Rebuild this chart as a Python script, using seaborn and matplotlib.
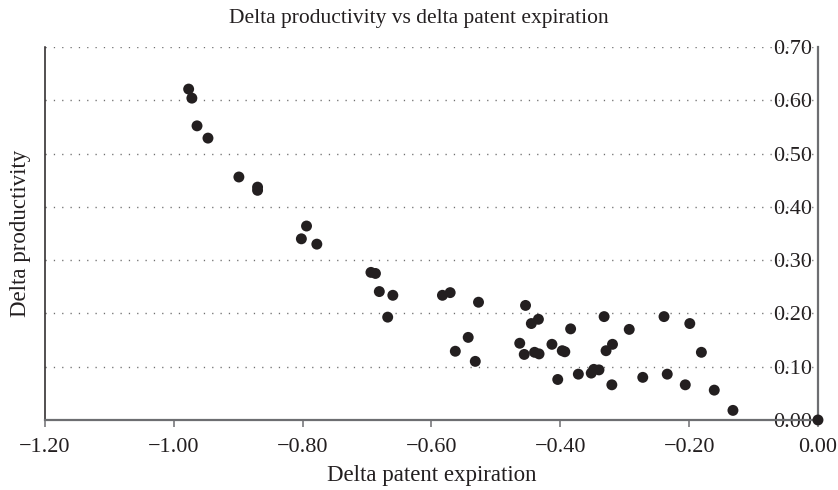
import matplotlib
matplotlib.use("Agg")
import matplotlib.pyplot as plt
import seaborn as sns
import pandas as pd

# Change in patent expiration (x) and change in productivity (y), one point per observation
delta_patent = [
    -0.977, -0.972, -0.964, -0.947, -0.899, -0.870, -0.870,
    -0.794, -0.802, -0.778,
    -0.694, -0.687, -0.681, -0.660, -0.668,
    -0.583, -0.571, -0.527, -0.543, -0.563, -0.532,
    -0.463, -0.454, -0.445, -0.434, -0.456, -0.440, -0.433,
    -0.413, -0.397, -0.393, -0.404, -0.384, -0.372, -0.352, -0.348, -0.340,
    -0.332, -0.329, -0.319, -0.320, -0.293,
    -0.272, -0.239, -0.234, -0.199, -0.206, -0.181, -0.161, -0.132, 0.000,
]
delta_productivity = [
    0.621, 0.604, 0.552, 0.529, 0.456, 0.437, 0.431,
    0.364, 0.340, 0.330,
    0.277, 0.275, 0.241, 0.234, 0.193,
    0.234, 0.239, 0.221, 0.155, 0.129, 0.110,
    0.144, 0.215, 0.181, 0.189, 0.123, 0.127, 0.124,
    0.142, 0.130, 0.128, 0.076, 0.171, 0.086, 0.088, 0.095, 0.094,
    0.194, 0.130, 0.142, 0.066, 0.170,
    0.080, 0.194, 0.086, 0.181, 0.066, 0.127, 0.056, 0.018, 0.000,
]

x_ticks = [-1.2, -1.0, -0.8, -0.6, -0.4, -0.2, 0.0]
x_tick_labels = ["\u22121.20", "\u22121.00", "\u22120.80", "\u22120.60",
                 "\u22120.40", "\u22120.20", "0.00"]
y_ticks = [0.0, 0.1, 0.2, 0.3, 0.4, 0.5, 0.6, 0.7]
y_tick_labels = ["0.00", "0.10", "0.20", "0.30", "0.40", "0.50", "0.60", "0.70"]

title = "Delta productivity vs delta patent expiration"
x_title = "Delta patent expiration"
y_title = "Delta productivity"

ink = "#231f20"
rule = "#6d6e71"

sns.set_theme(style="white")
plt.rcParams["font.family"] = ["Liberation Serif", "DejaVu Serif"]
plt.rcParams["text.color"] = ink
plt.rcParams["axes.labelcolor"] = ink
plt.rcParams["xtick.color"] = rule
plt.rcParams["xtick.labelcolor"] = ink
plt.rcParams["ytick.labelcolor"] = ink

df = pd.DataFrame({"patent": delta_patent, "productivity": delta_productivity})

fig = plt.figure(figsize=(8.38, 4.90), dpi=100)
ax = fig.add_axes([0.0537, 0.1429, 0.9224, 0.7612])

sns.scatterplot(data=df, x="patent", y="productivity", ax=ax, color=ink,
                s=62, edgecolor="none", linewidth=0, clip_on=False, zorder=5)

ax.set_xlim(-1.2, 0.0)
ax.set_ylim(0.0, 0.7)

# dotted horizontal guides
for v in y_ticks[1:]:
    ax.axhline(v, color="#6f6f6f", linewidth=1.0, linestyle=(0, (0.9, 5.1)), zorder=1)

ax.spines["top"].set_visible(False)
ax.spines["left"].set_color(ink)
ax.spines["left"].set_linewidth(1.1)
ax.spines["bottom"].set_color(rule)
ax.spines["bottom"].set_linewidth(1.6)
ax.spines["right"].set_color(rule)
ax.spines["right"].set_linewidth(1.6)

ax.set_xticks(x_ticks, x_tick_labels)
ax.tick_params(axis="x", direction="out", length=5, width=1.1, pad=8,
               labelsize=16, bottom=True)

ax.yaxis.set_ticks_position("right")
ax.set_yticks(y_ticks, y_tick_labels)
ax.tick_params(axis="y", length=0, pad=-4.5, labelsize=16,
               left=False, right=False, labelleft=False, labelright=True)
for lbl in ax.get_yticklabels():
    lbl.set_horizontalalignment("right")
    lbl.set_bbox(dict(facecolor="white", edgecolor="none", pad=0.5))
    lbl.set_zorder(4)

ax.set_xlabel(x_title, fontsize=16.5, labelpad=6)
ax.set_ylabel(y_title, fontsize=16.5, labelpad=10)
ax.yaxis.set_label_position("left")

fig.suptitle(title, fontsize=15.5, x=0.5, y=0.982, va="top")

fig.savefig("out.png", dpi=100, facecolor="white")
